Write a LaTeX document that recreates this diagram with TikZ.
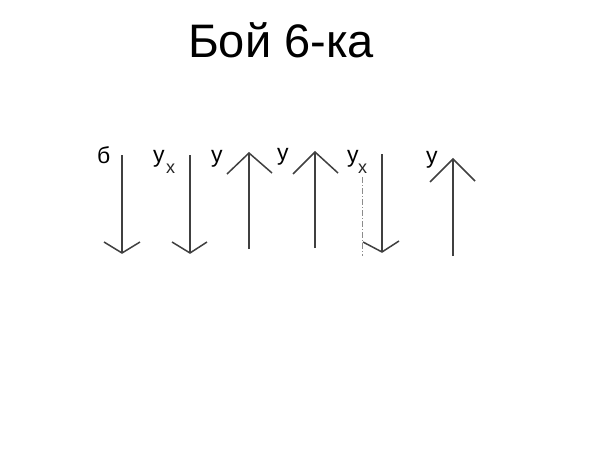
\documentclass[tikz,border=0pt]{standalone}
\usepackage{fontspec}
\setmainfont{Liberation Sans}
\begin{document}
\begin{tikzpicture}[x=1pt,y=-1pt,
  vec/.style={draw=black!75,line width=1.5pt},
  guide/.style={draw=black!45,line width=0.8pt,dash pattern=on 6pt off 2pt on 1pt off 2pt},
  lbl/.style={anchor=base west,inner sep=0pt,font=\fontsize{23}{27}\selectfont},
  sub/.style={anchor=base west,inner sep=0pt,font=\fontsize{18}{21}\selectfont,text=black!85}]
\useasboundingbox (0,0) rectangle (600,450);
\fill[white] (0,0) rectangle (600,450);
% title
\node[anchor=base,inner sep=0pt,font=\fontsize{47}{51}\selectfont] (title) at (281,57) {Бой 6-ка};
% labels
\node[lbl] (l1) at (97,163) {б};
\node[lbl] (l2) at (153,162) {у};
\node[sub] (l2s) at (166,173) {х};
\node[lbl] (l3) at (211,162) {у};
\node[lbl] (l4) at (277,160) {у};
\node[lbl] (l5) at (347,162) {у};
\node[sub] (l5s) at (358,173) {х};
\node[lbl] (l6) at (426,163) {у};
% arrows down
\draw[vec] (122,155) -- (122,253);
\draw[vec] (104,242) -- (122,253) -- (140,242);
\draw[vec] (190,155) -- (190,253);
\draw[vec] (172,242) -- (190,253) -- (207,242);
% arrows up
\draw[vec] (249,249) -- (249,153);
\draw[vec] (227,174) -- (249,153) -- (272,173);
\draw[vec] (315,248) -- (315,152);
\draw[vec] (293,174) -- (315,152) -- (338,173);
% arrow down with guide
\draw[guide] (362,177) -- (362,256);
\draw[vec] (382,154) -- (382,252);
\draw[vec] (363,242) -- (382,252) -- (399,241);
% last arrow up
\draw[vec] (453,256) -- (453,159);
\draw[vec] (430,182) -- (453,159) -- (475,181);
\end{tikzpicture}
\end{document}
